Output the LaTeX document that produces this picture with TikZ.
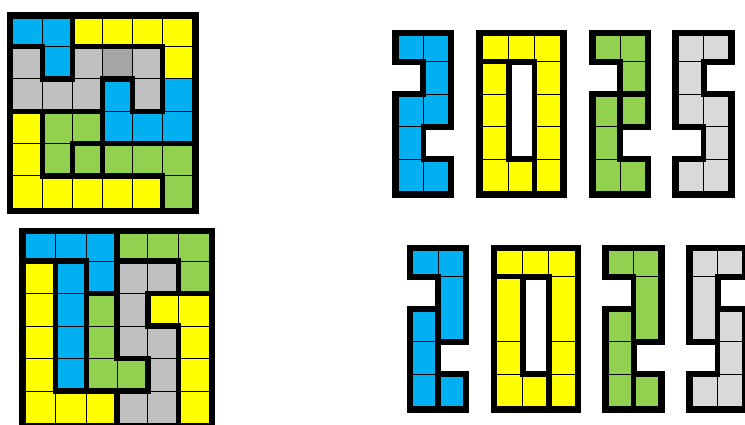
\documentclass[tikz,border=0pt]{standalone}
\usepackage{tikz}

\definecolor{bl}{HTML}{00B0F0}
\definecolor{ye}{HTML}{FFFF00}
\definecolor{gr}{HTML}{92D050}
\definecolor{si}{HTML}{C0C0C0}
\definecolor{dk}{HTML}{A6A6A6}
\definecolor{lt}{HTML}{D9D9D9}

% #1,#2 corner  #3 cell width  #4 first row  #5 other rows  #6,#7 size
% #8 cells col/row/rows/colour   #9 thick lines x/y/x/y
\newcommand{\tiles}[9]{%
  \def\ox{#1}\def\oy{#2}\def\cw{#3}\def\ha{#4}\def\hb{#5}\def\nc{#6}\def\nr{#7}%
  \foreach \cx/\ry/\rn/\clr in {#8}
    \fill[black] ({gx(\cx)-3-3*equal(\cx,0)},{gy(\ry)-3-3*equal(\ry,0)})
      rectangle ({gx(\cx+1)+3+3*equal(\cx+1,\nc)},{gy(\ry+\rn)+3+3*equal(\ry+\rn,\nr)});
  \foreach \cx/\ry/\rn/\clr in {#8}
    \filldraw[cell,fill=\clr] ({gx(\cx)},{gy(\ry)}) rectangle ({gx(\cx+1)},{gy(\ry+\rn)});
  \foreach \xa/\ya/\xb/\yb in {#9}
    \draw[wall] ({gx(\xa)},{gy(\ya)}) -- ({gx(\xb)},{gy(\yb)});
}

\begin{document}
\begin{tikzpicture}[x=1pt,y=-1pt,
    declare function={gx(\i)=\ox+\i*\cw; gy(\j)=\oy+min(\j,1)*\ha+max(\j-1,0)*\hb;}]
    \tikzset{cell/.style = {draw=black,line width=1pt}}
    \tikzset{wall/.style = {draw=black,line width=5.5pt,line cap=rect}}
    \useasboundingbox (0,0) rectangle (745,425);

    % square grids

    \tiles{12.7}{18.3}{30}{28.4}{32.3}{6}{6}
      {0/0/1/bl,1/0/1/bl,2/0/1/ye,3/0/1/ye,4/0/1/ye,5/0/1/ye,
       0/1/1/si,1/1/1/bl,2/1/1/si,3/1/1/dk,4/1/1/si,5/1/1/ye,
       0/2/1/si,1/2/1/si,2/2/1/si,3/2/1/bl,4/2/1/si,5/2/1/bl,
       0/3/1/ye,1/3/1/gr,2/3/1/gr,3/3/1/bl,4/3/1/bl,5/3/1/bl,
       0/4/1/ye,1/4/1/gr,2/4/1/gr,3/4/1/gr,4/4/1/gr,5/4/1/gr,
       0/5/1/ye,1/5/1/ye,2/5/1/ye,3/5/1/ye,4/5/1/ye,5/5/1/gr}
      {2/0/2/2,0/1/1/1,2/1/5/1,1/1/1/2,1/2/2/2,5/1/5/3,3/2/4/2,3/2/3/5,
       4/2/4/3,4/3/5/3,0/3/3/3,1/3/1/5,2/4/6/4,2/4/2/5,1/5/5/5,5/5/5/6}

    \tiles{25}{234}{30.7}{27}{32.5}{6}{6}
      {0/0/1/bl,1/0/1/bl,2/0/1/bl,3/0/1/gr,4/0/1/gr,5/0/1/gr,
       0/1/1/ye,1/1/1/bl,2/1/1/bl,3/1/1/si,4/1/1/si,5/1/1/gr,
       0/2/1/ye,1/2/1/bl,2/2/1/gr,3/2/1/si,4/2/1/ye,5/2/1/ye,
       0/3/1/ye,1/3/1/bl,2/3/1/gr,3/3/1/si,4/3/1/si,5/3/1/ye,
       0/4/1/ye,1/4/1/bl,2/4/1/gr,3/4/1/gr,4/4/1/si,5/4/1/ye,
       0/5/1/ye,1/5/1/ye,2/5/1/ye,3/5/1/si,4/5/1/si,5/5/1/ye}
      {3/0/3/4,3/5/3/6,0/1/2/1,1/1/1/5,2/1/2/5,2/2/3/2,3/1/5/1,5/1/5/2,
       4/2/6/2,4/2/4/3,4/3/5/3,5/3/5/6,3/4/4/4,4/4/4/5,1/5/4/5}

    % digits, upper row

    \tiles{398.3}{35.7}{25}{26}{32.5}{2}{5}
      {0/0/1/bl,1/0/1/bl,1/1/1/bl,0/2/1/bl,1/2/1/bl,0/3/1/bl,0/4/1/bl,1/4/1/bl}
      {0/1/1/1,1/1/1/2,0/2/1/2,1/3/2/3,1/3/1/4,1/4/2/4}
    \tiles{482.3}{35.7}{26.2}{26}{32.5}{3}{5}
      {0/0/1/ye,1/0/1/ye,2/0/1/ye,0/1/1/ye,2/1/1/ye,0/2/1/ye,2/2/1/ye,
       0/3/1/ye,2/3/1/ye,0/4/1/ye,1/4/1/ye,2/4/1/ye}
      {0/1/2/1,1/1/1/4,2/1/2/5,1/4/2/4}
    \tiles{595}{35.7}{25}{26}{32.5}{2}{5}
      {0/0/1/gr,1/0/1/gr,1/1/1/gr,0/2/1/gr,1/2/1/gr,0/3/1/gr,0/4/1/gr,1/4/1/gr}
      {0/1/1/1,1/1/1/4,0/2/2/2,1/3/2/3,1/4/2/4}
    \tiles{678.3}{35.7}{25.3}{26}{32.5}{2}{5}
      {0/0/1/lt,1/0/1/lt,0/1/1/lt,0/2/1/lt,1/2/1/lt,1/3/1/lt,0/4/1/lt,1/4/1/lt}
      {1/1/2/1,1/1/1/2,1/2/2/2,0/3/1/3,1/3/1/4,0/4/1/4}

    % digits, lower row

    \tiles{412.7}{250.7}{25.3}{26}{32.5}{2}{5}
      {0/0/1/bl,1/0/1/bl,1/1/2/bl,0/2/1/bl,0/3/1/bl,0/4/1/bl,1/4/1/bl}
      {0/1/1/1,0/2/1/2,1/1/1/5,1/3/2/3,1/4/2/4}
    \tiles{496.7}{250.7}{26.1}{26}{32.5}{3}{5}
      {0/0/1/ye,1/0/1/ye,2/0/1/ye,0/1/2/ye,2/1/2/ye,
       0/3/1/ye,2/3/1/ye,0/4/1/ye,1/4/1/ye,2/4/1/ye}
      {0/1/2/1,1/1/1/4,2/1/2/5,1/4/2/4}
    \tiles{608.3}{250.7}{25.3}{26}{32.5}{2}{5}
      {0/0/1/gr,1/0/1/gr,1/1/2/gr,0/2/1/gr,0/3/1/gr,0/4/1/gr,1/4/1/gr}
      {0/1/1/1,0/2/1/2,1/1/1/5,1/3/2/3,1/4/2/4}
    \tiles{692.3}{250.7}{25.2}{26}{32.5}{2}{5}
      {0/0/1/lt,1/0/1/lt,0/1/2/lt,1/2/1/lt,1/3/1/lt,0/4/1/lt,1/4/1/lt}
      {1/1/2/1,1/1/1/3,1/2/2/2,0/3/1/3,1/3/1/4,0/4/1/4}
\end{tikzpicture}
\end{document}
